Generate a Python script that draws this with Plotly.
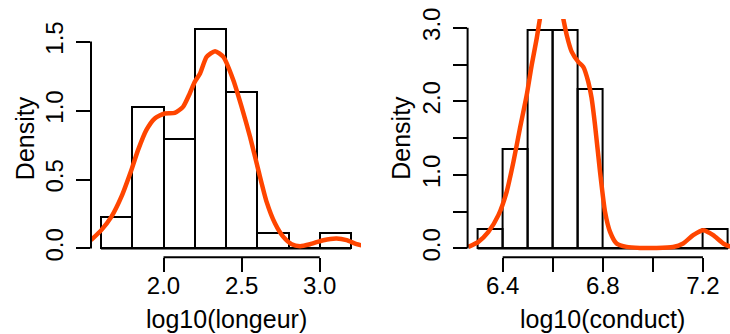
import plotly.graph_objects as go

W, H = 730, 334
FONT = "Liberation Sans, Arial, Helvetica, sans-serif"
FS = 24
FS_TITLE = 25
RED = "rgb(255,69,0)"

# ---- Left panel: log10(longeur) ----
left_breaks = [1.6, 1.8, 2.0, 2.2, 2.4, 2.6, 2.8, 3.0, 3.2]
left_density = [0.227, 1.023, 0.795, 1.591, 1.136, 0.114, 0.0, 0.114]
left_kde_x = [1.536, 1.602, 1.666, 1.730, 1.794, 1.837, 1.890, 1.944, 2.008, 2.072,
              2.125, 2.168, 2.200, 2.234, 2.276, 2.330, 2.383, 2.447, 2.500, 2.554,
              2.607, 2.660, 2.714, 2.767, 2.820, 2.874, 2.938, 3.023, 3.108, 3.172,
              3.236, 3.280]
left_kde_y = [0.060, 0.133, 0.229, 0.374, 0.568, 0.713, 0.858, 0.943, 0.979, 0.983,
              1.027, 1.124, 1.208, 1.269, 1.389, 1.431, 1.389, 1.220, 1.027, 0.809,
              0.568, 0.338, 0.181, 0.084, 0.031, 0.017, 0.031, 0.060, 0.072, 0.060,
              0.031, 0.020]
left_xticks = [2.0, 2.5, 3.0]
left_xlabels = ["2.0", "2.5", "3.0"]
left_yticks = [0.0, 0.5, 1.0, 1.5]
left_ylabels = ["0.0", "0.5", "1.0", "1.5"]
left_ylim = 1.6
left_xtitle = "log10(longeur)"

# ---- Right panel: log10(conduct) ----
right_breaks = [6.3, 6.4, 6.5, 6.6, 6.7, 6.8, 6.9, 7.0, 7.1, 7.2, 7.3]
right_density = [0.270, 1.351, 2.973, 2.973, 2.162, 0.0, 0.0, 0.0, 0.0, 0.270]
right_kde_x = [6.263, 6.303, 6.343, 6.383, 6.416, 6.443, 6.469, 6.496, 6.516, 6.536,
               6.549, 6.562, 6.578, 6.595, 6.612, 6.628, 6.642, 6.656, 6.676, 6.702,
               6.722, 6.742, 6.755, 6.769, 6.789, 6.809, 6.829, 6.855, 6.895, 6.948,
               7.015, 7.081, 7.121, 7.161, 7.201, 7.241, 7.281, 7.320, 7.340]
right_kde_y = [0.022, 0.090, 0.226, 0.453, 0.770, 1.177, 1.632, 2.084, 2.492, 2.855,
               3.127, 3.350, 3.500, 3.550, 3.500, 3.350, 3.127, 2.900, 2.673, 2.537,
               2.469, 2.265, 2.050, 1.676, 1.041, 0.498, 0.226, 0.068, 0.022, 0.008,
               0.006, 0.020, 0.068, 0.181, 0.249, 0.181, 0.068, 0.015, 0.006]
right_xticks = [6.4, 6.6, 6.8, 7.0, 7.2]
right_xlabels = ["6.4", "", "6.8", "", "7.2"]
right_yticks = [0.0, 0.5, 1.0, 1.5, 2.0, 2.5, 3.0]
right_ylabels = ["0.0", "", "1.0", "", "2.0", "", "3.0"]
right_ylim = 3.0
right_xtitle = "log10(conduct)"

ytitle = "Density"

# ---- Layout geometry (pixels) ----
plot_top, plot_bot = 19.0, 257.3
left_px = (91.0, 361.0)
right_px = (467.6, 738.0)


def ext(lo, hi):
    d = hi - lo
    return [lo - 0.04 * d, hi + 0.04 * d]


ydom = [(H - plot_bot) / H, (H - plot_top) / H]

lx_range = ext(left_breaks[0], left_breaks[-1])
rx_full = ext(right_breaks[0], right_breaks[-1])
# right panel is cut by the right border of the picture
frac = (W - right_px[0]) / (right_px[1] - right_px[0])
rx_range = [rx_full[0], rx_full[0] + (rx_full[1] - rx_full[0]) * frac]

fig = go.Figure()


def add_panel(breaks, dens, kx, ky, xa, ya):
    centers = [(breaks[i] + breaks[i + 1]) / 2 for i in range(len(dens))]
    widths = [breaks[i + 1] - breaks[i] for i in range(len(dens))]
    fig.add_trace(go.Bar(x=centers, y=dens, width=widths,
                         marker=dict(color="rgba(0,0,0,0)",
                                     line=dict(color="black", width=2)),
                         xaxis=xa, yaxis=ya, showlegend=False, hoverinfo="skip"))
    fig.add_trace(go.Scatter(x=kx, y=ky, mode="lines", line=dict(color=RED, width=4.5,
                                                                  shape="spline", smoothing=0.6),
                             xaxis=xa, yaxis=ya, showlegend=False, hoverinfo="skip"))
    # baseline of the histogram (zero-height bins)
    fig.add_shape(type="line", xref=xa, yref=ya, x0=breaks[0], x1=breaks[-1], y0=0, y1=0,
                  line=dict(color="black", width=2), layer="below")


add_panel(left_breaks, left_density, left_kde_x, left_kde_y, "x", "y")
add_panel(right_breaks, right_density, right_kde_x, right_kde_y, "x2", "y2")

tickfont = dict(family=FONT, size=FS, color="black")
common_ax = dict(showgrid=False, zeroline=False, showline=False, ticks="outside",
                 ticklen=14, tickwidth=2, tickcolor="black", tickfont=tickfont,
                 fixedrange=True, automargin=False)

fig.update_layout(
    width=W, height=H, margin=dict(l=0, r=0, t=0, b=0, autoexpand=False),
    paper_bgcolor="white", plot_bgcolor="white", bargap=0, showlegend=False,
    xaxis=dict(domain=[left_px[0] / W, left_px[1] / W], range=lx_range, anchor="y",
               tickmode="array", tickvals=left_xticks, ticktext=left_xlabels,
               ticklabelstandoff=-7, **common_ax),
    yaxis=dict(domain=ydom, range=ext(0, left_ylim), anchor="x",
               tickmode="array", tickvals=left_yticks, ticktext=left_ylabels,
               tickangle=-90, ticklabelstandoff=3, **common_ax),
    xaxis2=dict(domain=[right_px[0] / W, 1.0], range=rx_range, anchor="y2",
                tickmode="array", tickvals=right_xticks, ticktext=right_xlabels,
                ticklabelstandoff=-7, **common_ax),
    yaxis2=dict(domain=ydom, range=ext(0, right_ylim), anchor="x2",
                tickmode="array", tickvals=right_yticks, ticktext=right_ylabels,
                tickangle=-90, ticklabelstandoff=3, **common_ax),
)

# axis lines spanning first to last tick (R style)
for xa, ya, xt, yt in [("x", "y", left_xticks, left_yticks),
                       ("x2", "y2", right_xticks, right_yticks)]:
    fig.add_shape(type="line", xref=xa, yref=ya + " domain", x0=xt[0], x1=xt[-1], y0=0, y1=0,
                  line=dict(color="black", width=2))
    fig.add_shape(type="line", xref=xa + " domain", yref=ya, x0=0, x1=0, y0=yt[0], y1=yt[-1],
                  line=dict(color="black", width=2))

# axis titles
title_font = dict(family=FONT, size=FS_TITLE, color="black")
for px, title in [(left_px, left_xtitle), (right_px, right_xtitle)]:
    fig.add_annotation(text=title, xref="paper", yref="paper",
                       x=(px[0] + px[1]) / 2 / W, y=(H - 319) / H,
                       showarrow=False, font=title_font, xanchor="center", yanchor="middle")
    fig.add_annotation(text=ytitle, xref="paper", yref="paper",
                       x=(px[0] - 66) / W, y=1 - (plot_top + plot_bot) / 2 / H,
                       textangle=-90, showarrow=False, font=title_font,
                       xanchor="center", yanchor="middle")

fig.write_html("out.html")
